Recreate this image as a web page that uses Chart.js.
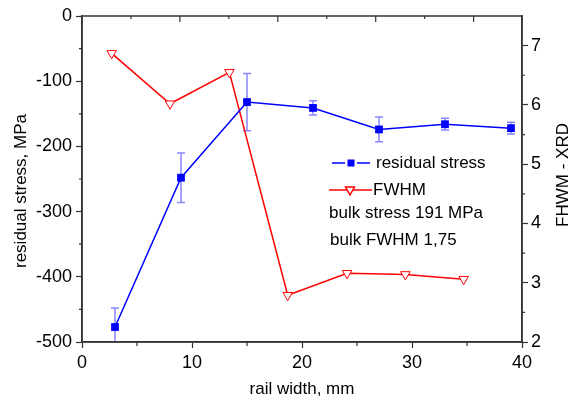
<!DOCTYPE html>
<html>
<head>
<meta charset="utf-8">
<script src="https://cdn.jsdelivr.net/npm/chart.js@4"></script>
<style>
  html, body { margin: 0; padding: 0; background: #fff; }
  #wrap { width: 582px; height: 401px; position: relative; }
</style>
</head>
<body>
<div id="wrap"><canvas id="chart"></canvas></div>
<script>
// Dados
const stressX = [3, 9, 15, 21, 27, 33, 39];
const stressValues = [-477, -248, -132, -141, -174, -166, -172];
const stressErrors = [29, 38, 44, 11, 19, 9, 9];

const fwhmX = [2.7, 8, 13.4, 18.7, 24.1, 29.4, 34.7];
const fwhmValues = [6.87, 6.02, 6.55, 2.79, 3.16, 3.14, 3.06];

const xTicks = [0, 10, 20, 30, 40];
const stressTicks = [-500, -400, -300, -200, -100, 0];
const fwhmTicks = [2, 3, 4, 5, 6, 7];
const TOP_STEP = 8.9; // passo dos ticks do eixo superior (unidades de x)

const notes = ["bulk stress 191 MPa", "bulk FWHM 1,75"];

const FONT = "'Liberation Sans', Arial, sans-serif";
const BLUE = "#0000ff";
const RED = "#ff0000";

function setTicks(values) {
  return (axis) => {
    axis.ticks = values.map((v) => ({ value: v }));
  };
}

// Barras de erro da tensão residual
const errorBars = {
  id: "errorBars",
  beforeDatasetsDraw(chart) {
    const { ctx, chartArea, scales } = chart;
    ctx.save();
    ctx.beginPath();
    ctx.rect(chartArea.left, chartArea.top, chartArea.width, chartArea.height);
    ctx.clip();
    ctx.strokeStyle = "rgba(70,70,255,0.65)";
    ctx.lineWidth = 1.5;
    stressX.forEach((xv, i) => {
      const x = scales.x.getPixelForValue(xv);
      const yt = scales.y.getPixelForValue(stressValues[i] + stressErrors[i]);
      const yb = scales.y.getPixelForValue(stressValues[i] - stressErrors[i]);
      ctx.beginPath();
      ctx.moveTo(x, yt); ctx.lineTo(x, yb);
      ctx.moveTo(x - 4, yt); ctx.lineTo(x + 4, yt);
      ctx.moveTo(x - 4, yb); ctx.lineTo(x + 4, yb);
      ctx.stroke();
    });
    ctx.restore();
  },
};

// Moldura, ticks menores, títulos e legenda
const decorations = {
  id: "decorations",
  afterDraw(chart) {
    const { ctx, chartArea: a, scales } = chart;
    ctx.save();
    ctx.strokeStyle = "#333";
    ctx.lineWidth = 1.5;
    ctx.strokeRect(a.left, a.top, a.right - a.left, a.bottom - a.top);

    // ticks menores
    ctx.lineWidth = 1.2;
    ctx.beginPath();
    for (let v = 5; v < 40; v += 10) {
      const x = scales.x.getPixelForValue(v);
      ctx.moveTo(x, a.bottom); ctx.lineTo(x, a.bottom + 4);
    }
    for (let v = -450; v < 0; v += 100) {
      const y = scales.y.getPixelForValue(v);
      ctx.moveTo(a.left, y); ctx.lineTo(a.left - 3, y);
    }
    for (let v = 2.5; v < 7.5; v += 1) {
      const y = scales.y1.getPixelForValue(v);
      ctx.moveTo(a.right, y); ctx.lineTo(a.right + 3, y);
    }
    // eixo superior: ticks para dentro
    for (let k = 1; k * TOP_STEP / 2 < 40; k++) {
      const x = scales.x.getPixelForValue(k * TOP_STEP / 2);
      const len = k % 2 === 0 ? 6 : 3;
      ctx.moveTo(x, a.top); ctx.lineTo(x, a.top + len);
    }
    ctx.stroke();

    // títulos dos eixos
    ctx.fillStyle = "#000";
    ctx.font = "17px " + FONT;
    ctx.textAlign = "center";
    ctx.textBaseline = "middle";
    ctx.fillText("rail width, mm", (a.left + a.right) / 2, 389);
    ctx.save();
    ctx.translate(21, 191);
    ctx.rotate(-Math.PI / 2);
    ctx.fillText("residual stress, MPa", 0, 0);
    ctx.restore();
    ctx.save();
    ctx.translate(563, 175);
    ctx.rotate(-Math.PI / 2);
    ctx.fillText("FHWM - XRD", 0, 0);
    ctx.restore();

    // legenda
    ctx.textAlign = "left";
    ctx.lineWidth = 1.5;
    ctx.strokeStyle = BLUE;
    ctx.beginPath();
    ctx.moveTo(332, 163); ctx.lineTo(345, 163);
    ctx.moveTo(357, 163); ctx.lineTo(370, 163);
    ctx.stroke();
    ctx.fillStyle = BLUE;
    ctx.fillRect(347.5, 159.5, 7, 7);
    ctx.fillStyle = "#000";
    ctx.fillText("residual stress", 376, 163);

    ctx.strokeStyle = RED;
    ctx.beginPath();
    ctx.moveTo(329, 190); ctx.lineTo(372, 190);
    ctx.stroke();
    ctx.fillStyle = "#fff";
    ctx.beginPath();
    ctx.moveTo(345.5, 187); ctx.lineTo(354.5, 187); ctx.lineTo(350, 195);
    ctx.closePath();
    ctx.fill(); ctx.stroke();
    ctx.fillStyle = "#000";
    ctx.fillText("FWHM", 373, 190);

    ctx.fillText(notes[0], 329, 213);
    ctx.fillText(notes[1], 330, 240);
    ctx.restore();
  },
};

new Chart(document.getElementById("chart"), {
  type: "line",
  data: {
    datasets: [
      {
        label: "residual stress",
        data: stressX.map((x, i) => ({ x, y: stressValues[i] })),
        yAxisID: "y",
        borderColor: BLUE,
        backgroundColor: BLUE,
        borderWidth: 1.5,
        pointStyle: "rect",
        pointRadius: 5.5,
        pointBorderWidth: 0,
        tension: 0,
      },
      {
        label: "FWHM",
        data: fwhmX.map((x, i) => ({ x, y: fwhmValues[i] })),
        yAxisID: "y1",
        borderColor: RED,
        backgroundColor: "#fff",
        borderWidth: 1.5,
        pointStyle: "triangle",
        pointRotation: 180,
        pointRadius: 5.5,
        pointBorderWidth: 1,
        tension: 0,
      },
    ],
  },
  options: {
    responsive: true,
    maintainAspectRatio: false,
    animation: false,
    events: [],
    layout: { padding: { top: 16, left: 0, right: 0, bottom: 0 } },
    plugins: { legend: { display: false }, tooltip: { enabled: false } },
    scales: {
      x: {
        type: "linear",
        min: 0,
        max: 40,
        afterBuildTicks: setTicks(xTicks),
        afterFit: (s) => { s.height = 59; },
        grid: { drawOnChartArea: false, tickLength: 6, tickColor: "#333", tickWidth: 1.2 },
        border: { color: "#333", width: 1.5 },
        ticks: { color: "#000", font: { family: FONT, size: 18 }, padding: 4, maxRotation: 0 },
      },
      y: {
        position: "left",
        min: -500,
        max: 0,
        afterBuildTicks: setTicks(stressTicks),
        afterFit: (s) => { s.width = 82; },
        grid: { drawOnChartArea: false, tickLength: 6, tickColor: "#333", tickWidth: 1.2 },
        border: { color: "#333", width: 1.5 },
        ticks: { color: "#000", font: { family: FONT, size: 18 }, padding: 4 },
      },
      y1: {
        position: "right",
        min: 2,
        max: 7.5,
        afterBuildTicks: setTicks(fwhmTicks),
        afterFit: (s) => { s.width = 60; },
        grid: { drawOnChartArea: false, tickLength: 6, tickColor: "#333", tickWidth: 1.2 },
        border: { color: "#333", width: 1.5 },
        ticks: { color: "#000", font: { family: FONT, size: 18 }, padding: 3 },
      },
    },
  },
  plugins: [errorBars, decorations],
});
</script>
</body>
</html>
